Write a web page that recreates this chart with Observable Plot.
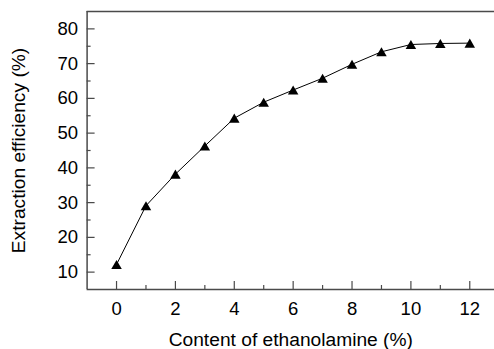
<!DOCTYPE html>
<html>
<head>
<meta charset="utf-8">
<script src="https://cdn.jsdelivr.net/npm/d3@7"></script>
<script src="https://cdn.jsdelivr.net/npm/@observablehq/plot@0.6"></script>
<style>
  html, body { margin: 0; padding: 0; background: #fff; }
  #chart svg { display: block; }
</style>
</head>
<body>
<div id="chart"></div>
<script>
const content = [0, 1, 2, 3, 4, 5, 6, 7, 8, 9, 10, 11, 12];
const efficiency = [12.2, 29.1, 38.2, 46.3, 54.3, 58.9, 62.4, 65.8, 69.8, 73.4, 75.5, 75.8, 75.9];
const xMajorTicks = [0, 2, 4, 6, 8, 10, 12];
const xMinorTicks = [1, 3, 5, 7, 9, 11];
const yMajorTicks = [10, 20, 30, 40, 50, 60, 70, 80];
const yMinorTicks = [15, 25, 35, 45, 55, 65, 75];
const xLabel = "Content of ethanolamine (%)";
const yLabel = "Extraction efficiency (%)";

const data = content.map((c, i) => ({x: c, y: efficiency[i]}));

const W = 494, H = 349;
const mL = 86.6, mR = 0, mT = 11, mB = 60;
const xDom = [-1, 12.84], yDom = [5, 85];
const pxPerY = (H - mT - mB) / (yDom[1] - yDom[0]);
const pxPerX = (W - mL - mR) / (xDom[1] - xDom[0]);
const axisColor = "#4a4a4a";
const FS = 18.5;
const TFS = 19.2;

const chart = Plot.plot({
  width: W,
  height: H,
  marginLeft: mL,
  marginRight: mR,
  marginTop: mT,
  marginBottom: mB,
  style: {fontFamily: "'Liberation Sans', Arial, sans-serif", fontSize: FS + "px", color: "#000", background: "#fff"},
  x: {domain: xDom},
  y: {domain: yDom},
  marks: [
    // frame lines
    Plot.ruleX([xDom[0]], {stroke: axisColor, strokeWidth: 1.5}),
    Plot.ruleY([yDom[0]], {stroke: axisColor, strokeWidth: 1.5}),
    Plot.ruleY([yDom[1]], {stroke: axisColor, strokeWidth: 1.5}),
    // inward ticks
    Plot.ruleX(xMajorTicks, {x: d => d, y1: yDom[0], y2: yDom[0] + 8 / pxPerY, stroke: axisColor, strokeWidth: 1.2}),
    Plot.ruleX(xMinorTicks, {x: d => d, y1: yDom[0], y2: yDom[0] + 4 / pxPerY, stroke: axisColor, strokeWidth: 1.2}),
    Plot.ruleY(yMajorTicks, {y: d => d, x1: xDom[0], x2: xDom[0] + 8 / pxPerX, stroke: axisColor, strokeWidth: 1.2}),
    Plot.ruleY(yMinorTicks, {y: d => d, x1: xDom[0], x2: xDom[0] + 4 / pxPerX, stroke: axisColor, strokeWidth: 1.2}),
    // tick labels
    Plot.axisX({ticks: xMajorTicks, tickSize: 0, tickPadding: 12, label: null, fontSize: FS}),
    Plot.axisY({ticks: yMajorTicks, tickSize: 0, tickPadding: 9, label: null, fontSize: FS}),
    // axis titles
    Plot.text([xLabel], {frameAnchor: "bottom", dy: 50, lineAnchor: "middle", textAnchor: "middle", text: d => d, fontSize: TFS, fill: "#000"}),
    Plot.text([yLabel], {frameAnchor: "left", dx: -68, rotate: -90, lineAnchor: "middle", textAnchor: "middle", text: d => d, fontSize: TFS, fill: "#000"}),
    // data
    Plot.line(data, {x: "x", y: "y", curve: "linear", stroke: "#000", strokeWidth: 1}),
    Plot.dot(data, {x: "x", y: "y", symbol: "triangle", r: 3.9, fill: "#000", stroke: "none", dy: 1.5})
  ]
});
document.getElementById("chart").appendChild(chart);
</script>
</body>
</html>
